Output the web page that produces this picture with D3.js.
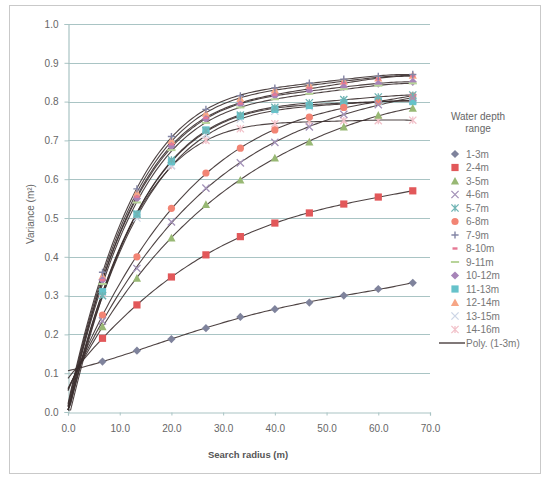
<!DOCTYPE html>
<html>
<head>
<meta charset="utf-8">
<script src="https://cdn.jsdelivr.net/npm/d3@7"></script>
<style>
  body { margin: 0; background: #fff; }
  text { font-family: "Liberation Sans", Arial, sans-serif; }
</style>
</head>
<body>
<svg id="mainsvg" width="547" height="477"></svg>
<script>
// search radius (m) of each lag
const radius = [6.67, 13.33, 20, 26.67, 33.33, 40, 46.67, 53.33, 60, 66.67]
const depthRanges = ['1-3m','2-4m','3-5m','4-6m','5-7m','6-8m','7-9m','8-10m','9-11m','10-12m','11-13m','12-14m','13-15m','14-16m']

// variance per depth range
const v1_3   = [0.13, 0.158, 0.188, 0.216, 0.245, 0.265, 0.282, 0.30, 0.317, 0.333]
const v2_4   = [0.19, 0.276, 0.348, 0.405, 0.452, 0.487, 0.513, 0.536, 0.554, 0.57]
const v3_5   = [0.22, 0.345, 0.449, 0.535, 0.598, 0.655, 0.696, 0.735, 0.765, 0.783]
const v4_6   = [0.235, 0.37, 0.49, 0.577, 0.642, 0.695, 0.735, 0.767, 0.792, 0.81]
const v5_7   = [0.30, 0.51, 0.65, 0.725, 0.765, 0.785, 0.797, 0.805, 0.812, 0.817]
const v6_8   = [0.25, 0.40, 0.525, 0.616, 0.68, 0.727, 0.76, 0.785, 0.80, 0.815]
const v7_9   = [0.36, 0.575, 0.71, 0.78, 0.815, 0.835, 0.848, 0.858, 0.865, 0.87]
const v8_10  = [0.34, 0.555, 0.69, 0.758, 0.795, 0.818, 0.835, 0.848, 0.858, 0.866]
const v9_11  = [0.33, 0.54, 0.675, 0.745, 0.785, 0.806, 0.82, 0.832, 0.841, 0.847]
const v10_12 = [0.34, 0.55, 0.685, 0.755, 0.793, 0.815, 0.828, 0.838, 0.846, 0.851]
const v11_13 = [0.31, 0.51, 0.645, 0.727, 0.763, 0.78, 0.79, 0.797, 0.802, 0.80]
const v12_14 = [0.35, 0.565, 0.70, 0.77, 0.808, 0.83, 0.843, 0.853, 0.861, 0.868]
const v13_15 = [0.30, 0.50, 0.635, 0.715, 0.755, 0.775, 0.787, 0.795, 0.80, 0.803]
const v14_16 = [0.307, 0.508, 0.635, 0.70, 0.73, 0.743, 0.749, 0.751, 0.751, 0.752]
const variances = [v1_3, v2_4, v3_5, v4_6, v5_7, v6_8, v7_9, v8_10, v9_11, v10_12, v11_13, v12_14, v13_15, v14_16]

const xTicks = [0, 10, 20, 30, 40, 50, 60, 70]
const yTicks = [0, 0.1, 0.2, 0.3, 0.4, 0.5, 0.6, 0.7, 0.8, 0.9, 1.0]

// marker look of each series: [shape, colour]
const markers = [
  ['diamond','#7f839c'], ['square','#e2585a'], ['triangle','#98b874'], ['cross','#a392b8'],
  ['star','#6fb4b4'], ['circle','#f28474'], ['plus','#8486a6'], ['dash','#e67894'],
  ['line','#b8d49a'], ['diamond','#a784b8'], ['square','#66c2ca'], ['triangle','#f6a686'],
  ['cross','#cdd6e6'], ['star','#f2c2ca']
]
const trendColor = '#3b2f2f'
const polyOrder = 4

const svg = d3.select('#mainsvg')
const plot = {left: 68, right: 430, top: 24, bottom: 412}

// outer frame
svg.append('rect').attr('x',9.5).attr('y',5.5).attr('width',531).attr('height',468)
  .attr('fill','none').attr('stroke','#c9c9c9')

const x = d3.scaleLinear().domain([0,70]).range([plot.left,plot.right])
const y = d3.scaleLinear().domain([0,1]).range([plot.bottom,plot.top])

// horizontal grid
svg.append('g').selectAll('line').data(yTicks.slice(1)).join('line')
  .attr('x1',plot.left).attr('x2',plot.right)
  .attr('y1',d => Math.round(y(d)) + 0.5).attr('y2',d => Math.round(y(d)) + 0.5)
  .attr('stroke','#a9c4c4').attr('stroke-width',1.2)

const yAxis = svg.append('g').attr('transform',`translate(${plot.left + 0.5},0)`)
  .call(d3.axisLeft(y).tickValues(yTicks).tickFormat(d3.format('.1f')).tickSize(4).tickPadding(6))
const xAxis = svg.append('g').attr('transform',`translate(0,${plot.bottom + 0.5})`)
  .call(d3.axisBottom(x).tickValues(xTicks).tickFormat(d3.format('.1f')).tickSize(3).tickPadding(9))
for (const ax of [xAxis, yAxis]) {
  ax.select('.domain').attr('stroke','#a9c4c4').attr('stroke-width',1.2)
  ax.selectAll('.tick line').attr('stroke','#a9c4c4')
  ax.selectAll('.tick text').attr('fill','#666').style('font-size','10px')
    .style('font-family','"Liberation Sans", Arial, sans-serif')
}

// axis titles
svg.append('text').attr('x',248).attr('y',458).attr('text-anchor','middle')
  .attr('fill','#555').style('font-size','9.5px').style('font-weight','bold')
  .text('Search radius (m)')
svg.append('text').attr('transform','translate(34,214) rotate(-90)').attr('text-anchor','middle')
  .attr('fill','#666').style('font-size','10px')
  .text('Variance (m²)')

// polynomial trendline, least squares
function polyFit(xs, ys, order) {
  const n = order + 1
  const A = Array.from({length: n}, () => new Array(n + 1).fill(0))
  xs.forEach((xv, k) => {
    for (let i = 0; i < n; i++) {
      for (let j = 0; j < n; j++) A[i][j] += Math.pow(xv, i + j)
      A[i][n] += Math.pow(xv, i) * ys[k]
    }
  })
  for (let c = 0; c < n; c++) {
    let p = c
    for (let r = c + 1; r < n; r++) if (Math.abs(A[r][c]) > Math.abs(A[p][c])) p = r
    ;[A[c], A[p]] = [A[p], A[c]]
    for (let r = 0; r < n; r++) {
      if (r === c) continue
      const f = A[r][c] / A[c][c]
      for (let j = c; j <= n; j++) A[r][j] -= f * A[c][j]
    }
  }
  return A.map((row, i) => row[n] / row[i])
}
const evalPoly = (c, t) => c.reduce((s, ci, i) => s + ci * Math.pow(t, i), 0)

const line = d3.line().x(d => x(d[0])).y(d => y(d[1]))
const gTrend = svg.append('g')
variances.forEach(vals => {
  const c = polyFit(radius, vals, polyOrder)
  const pts = d3.range(0, 66.67 + 0.01, 0.5).map(t => [t, Math.max(0.005, evalPoly(c, t))])
  gTrend.append('path').attr('d', line(pts)).attr('fill','none')
    .attr('stroke', trendColor).attr('stroke-width', 1.1).attr('stroke-opacity', 0.9)
})

// marker drawing
function drawMarker(g, shape, color, cx, cy) {
  const s = 3.6
  if (shape === 'diamond') {
    g.append('path').attr('d',`M${cx},${cy-s-0.5}L${cx+s+0.5},${cy}L${cx},${cy+s+0.5}L${cx-s-0.5},${cy}Z`).attr('fill',color)
  } else if (shape === 'square') {
    g.append('rect').attr('x',cx-s).attr('y',cy-s).attr('width',2*s).attr('height',2*s).attr('fill',color)
  } else if (shape === 'triangle') {
    g.append('path').attr('d',`M${cx},${cy-s-0.5}L${cx+s+0.5},${cy+s}L${cx-s-0.5},${cy+s}Z`).attr('fill',color)
  } else if (shape === 'circle') {
    g.append('circle').attr('cx',cx).attr('cy',cy).attr('r',s).attr('fill',color)
  } else if (shape === 'cross') {
    g.append('path').attr('d',`M${cx-s},${cy-s}L${cx+s},${cy+s}M${cx-s},${cy+s}L${cx+s},${cy-s}`)
      .attr('stroke',color).attr('stroke-width',1.3)
  } else if (shape === 'star') {
    g.append('path').attr('d',`M${cx-s},${cy-s}L${cx+s},${cy+s}M${cx-s},${cy+s}L${cx+s},${cy-s}M${cx},${cy-s}L${cx},${cy+s}`)
      .attr('stroke',color).attr('stroke-width',1.3)
  } else if (shape === 'plus') {
    g.append('path').attr('d',`M${cx-s},${cy}L${cx+s},${cy}M${cx},${cy-s}L${cx},${cy+s}`)
      .attr('stroke',color).attr('stroke-width',1.4)
  } else if (shape === 'dash') {
    g.append('rect').attr('x',cx-2.5).attr('y',cy-1.2).attr('width',5).attr('height',2.4).attr('fill',color)
  } else if (shape === 'line') {
    g.append('rect').attr('x',cx-s-0.5).attr('y',cy-1).attr('width',2*s+1).attr('height',2).attr('fill',color)
  }
}

const gMarks = svg.append('g')
for (let i = variances.length - 1; i >= 0; i--) {
  const [shape, color] = markers[i]
  variances[i].forEach((v, k) => drawMarker(gMarks, shape, color, x(radius[k]), y(v)))
}

// legend
const lg = svg.append('g')
lg.append('text').attr('x',478).attr('y',120).attr('text-anchor','middle').attr('fill','#666')
  .style('font-size','10px').text('Water depth')
lg.append('text').attr('x',478).attr('y',132).attr('text-anchor','middle').attr('fill','#666')
  .style('font-size','10px').text('range')
const legY = d3.scaleLinear().domain([0,14]).range([154,343])
depthRanges.forEach((name, i) => {
  const [shape, color] = markers[i]
  drawMarker(lg, shape, color, 455, legY(i))
  lg.append('text').attr('x',466).attr('y',legY(i) + 3.5).attr('fill','#777')
    .style('font-size','10px').text(name)
})
lg.append('line').attr('x1',439).attr('x2',465).attr('y1',legY(14)).attr('y2',legY(14))
  .attr('stroke',trendColor).attr('stroke-width',1.3)
lg.append('text').attr('x',466).attr('y',legY(14) + 3.5).attr('fill','#777')
  .style('font-size','10px').text('Poly. (1-3m)')
</script>
</body>
</html>
